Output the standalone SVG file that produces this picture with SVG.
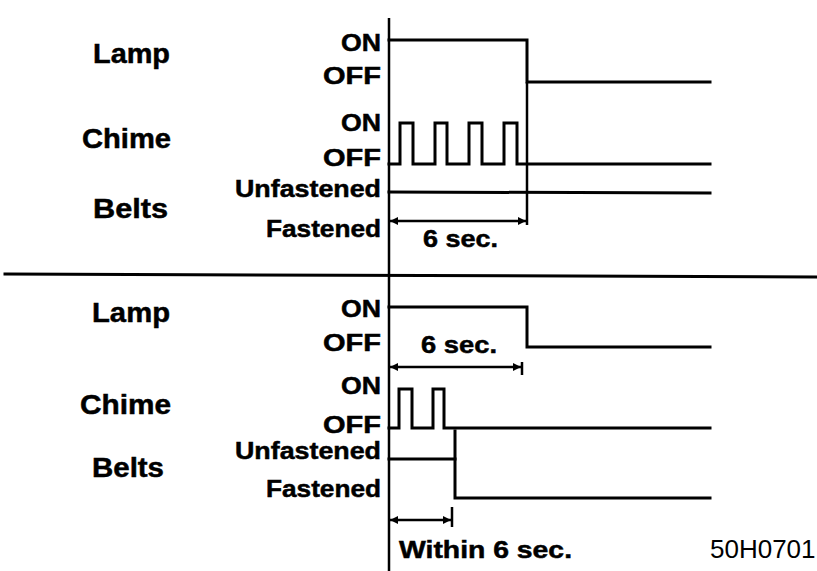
<svg xmlns="http://www.w3.org/2000/svg" width="817" height="571" viewBox="0 0 817 571">
<style>
.sig{fill:none;stroke:#000;stroke-width:3;stroke-linejoin:miter;stroke-linecap:square}
.ax{fill:none;stroke:#000;stroke-width:2.5}
.dim{fill:none;stroke:#000;stroke-width:2.5}
.big{font-family:"Liberation Sans",Arial,sans-serif;font-weight:bold;font-size:28px;fill:#000;stroke:#000;stroke-width:0.5}
.st{font-family:"Liberation Sans",Arial,sans-serif;font-weight:bold;font-size:24px;fill:#000;stroke:#000;stroke-width:0.5;text-anchor:end}
.dt{font-family:"Liberation Sans",Arial,sans-serif;font-weight:bold;font-size:24px;fill:#000;stroke:#000;stroke-width:0.5}
.code{font-family:"Liberation Sans",Arial,sans-serif;font-size:26px;fill:#000}
</style>
<defs>
<marker id="ah" viewBox="0 0 10 10" refX="10" refY="5" markerWidth="9" markerHeight="8" markerUnits="userSpaceOnUse" orient="auto-start-reverse">
<path d="M0 0 L10 5 L0 10 Z" fill="#000"/>
</marker>
</defs>
<rect width="817" height="571" fill="#fff"/>
<g id="connectors">
<line class="ax" x1="389" y1="18" x2="389" y2="571"/>
<line class="sig" x1="5" y1="274" x2="817" y2="277"/>
<path class="sig" d="M389 40 H527 V82 H710"/>
<line class="dim" x1="527" y1="82" x2="527" y2="225"/>
<path class="sig" d="M389 164 H400 V123 H413 V164 H435 V123 H447 V164 H469 V123 H482 V164 H504 V123 H517 V164 H710"/>
<line class="sig" x1="389" y1="192" x2="710" y2="193"/>
<line class="dim" x1="390" y1="221" x2="526" y2="221" marker-start="url(#ah)" marker-end="url(#ah)"/>
<path class="sig" d="M389 307 H527 V347 H710"/>
<line class="dim" x1="390" y1="367" x2="521" y2="367" marker-start="url(#ah)" marker-end="url(#ah)"/>
<line class="dim" x1="522" y1="362" x2="522" y2="375"/>
<path class="sig" d="M389 428 H399 V389 H412 V428 H433 V389 H444 V428 H710"/>
<path class="sig" d="M389 459 H455"/>
<path class="sig" d="M455 431 V498 H710"/>
<line class="dim" x1="390" y1="520" x2="451" y2="520" marker-start="url(#ah)" marker-end="url(#ah)"/>
<line class="dim" x1="452" y1="507" x2="452" y2="527"/>
</g>
<g id="top-lamp">
<text class="big" x="93" y="63" textLength="77" lengthAdjust="spacingAndGlyphs">Lamp</text>
<text class="st" x="381" y="51" textLength="40" lengthAdjust="spacingAndGlyphs">ON</text>
<text class="st" x="381" y="84" textLength="58" lengthAdjust="spacingAndGlyphs">OFF</text>
</g>
<g id="top-chime">
<text class="big" x="82" y="148" textLength="89" lengthAdjust="spacingAndGlyphs">Chime</text>
<text class="st" x="381" y="131" textLength="40" lengthAdjust="spacingAndGlyphs">ON</text>
<text class="st" x="381" y="166" textLength="58" lengthAdjust="spacingAndGlyphs">OFF</text>
</g>
<g id="top-belts">
<text class="big" x="93" y="218" textLength="75" lengthAdjust="spacingAndGlyphs">Belts</text>
<text class="st" x="381" y="197" font-size="23" textLength="146" lengthAdjust="spacingAndGlyphs">Unfastened</text>
<text class="st" x="381" y="237" font-size="23" textLength="115" lengthAdjust="spacingAndGlyphs">Fastened</text>
</g>
<g id="top-dim">
<text class="dt" x="423" y="247" textLength="75" lengthAdjust="spacingAndGlyphs">6 sec.</text>
</g>
<g id="bottom-lamp">
<text class="big" x="92" y="322" textLength="78" lengthAdjust="spacingAndGlyphs">Lamp</text>
<text class="st" x="381" y="317" textLength="40" lengthAdjust="spacingAndGlyphs">ON</text>
<text class="st" x="381" y="351" textLength="58" lengthAdjust="spacingAndGlyphs">OFF</text>
</g>
<g id="bottom-dim">
<text class="dt" x="421" y="353" textLength="76" lengthAdjust="spacingAndGlyphs">6 sec.</text>
</g>
<g id="bottom-chime">
<text class="big" x="80" y="414" textLength="91" lengthAdjust="spacingAndGlyphs">Chime</text>
<text class="st" x="381" y="394" textLength="40" lengthAdjust="spacingAndGlyphs">ON</text>
<text class="st" x="381" y="433" textLength="58" lengthAdjust="spacingAndGlyphs">OFF</text>
</g>
<g id="bottom-belts">
<text class="big" x="92" y="477" textLength="72" lengthAdjust="spacingAndGlyphs">Belts</text>
<text class="st" x="381" y="459" font-size="23" textLength="146" lengthAdjust="spacingAndGlyphs">Unfastened</text>
<text class="st" x="381" y="497" font-size="23" textLength="115" lengthAdjust="spacingAndGlyphs">Fastened</text>
</g>
<g id="bottom-within">
<text class="dt" x="399" y="558" textLength="173" lengthAdjust="spacingAndGlyphs">Within 6 sec.</text>
</g>
<g id="code">
<text class="code" x="710" y="558">50H0701</text>
</g>
</svg>
